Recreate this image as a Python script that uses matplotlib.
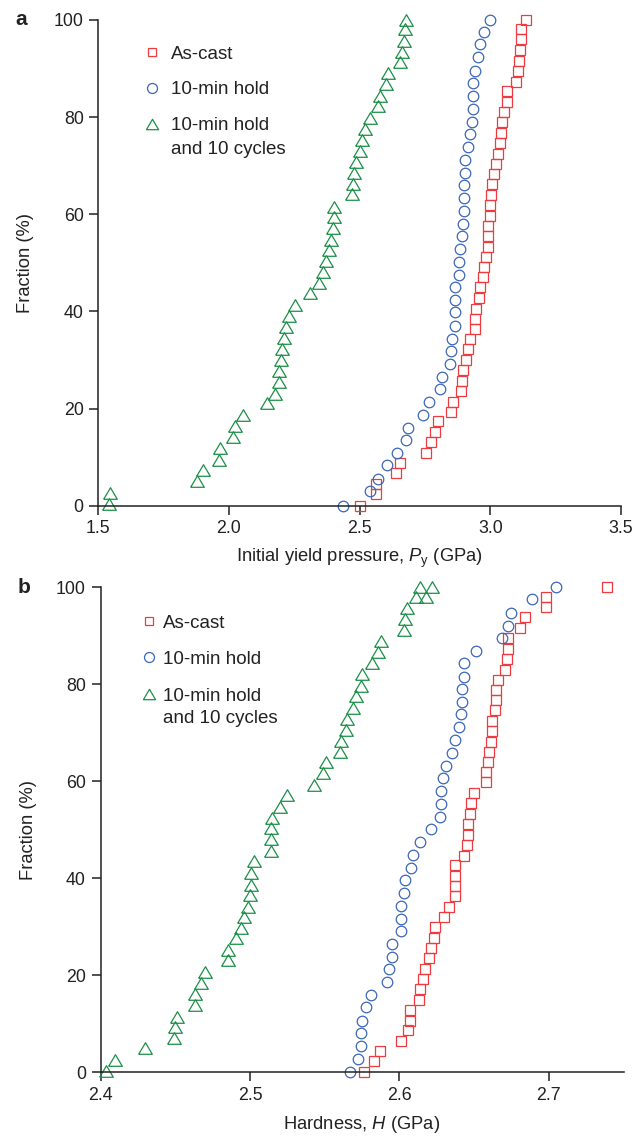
#!/usr/bin/env python3
from __future__ import annotations

import matplotlib
matplotlib.use("Agg")
import matplotlib.pyplot as plt
from matplotlib import font_manager

# ---- panel a: initial yield pressure (GPa) vs cumulative fraction (%) ----
a_cast_x = [3.135, 3.119, 3.119, 3.115, 3.108, 3.105, 3.100, 3.062, 3.062, 3.051,
            3.045, 3.041, 3.036, 3.029, 3.023, 3.015, 3.006, 3.004, 2.997, 2.997,
            2.992, 2.992, 2.992, 2.982, 2.976, 2.972, 2.959, 2.956, 2.946, 2.942,
            2.940, 2.921, 2.915, 2.905, 2.895, 2.890, 2.886, 2.859, 2.851, 2.800,
            2.787, 2.772, 2.753, 2.653, 2.638, 2.563, 2.562, 2.500]
a_cast_y = [100.0, 98.1, 96.0, 93.8, 91.6, 89.5, 87.3, 85.3, 83.1, 81.0,
            79.0, 76.8, 74.7, 72.5, 70.4, 68.3, 66.2, 64.0, 61.9, 59.7,
            57.6, 55.6, 53.3, 51.3, 49.1, 47.1, 45.0, 42.8, 40.6, 38.5,
            36.4, 34.3, 32.2, 30.1, 27.9, 25.7, 23.7, 21.4, 19.4, 17.4,
            15.2, 13.1, 10.9, 8.8, 6.7, 4.5, 2.4, 0.0]

a_hold_x = [2.997, 2.974, 2.962, 2.954, 2.942, 2.933, 2.935, 2.933, 2.931, 2.924,
            2.914, 2.904, 2.904, 2.901, 2.901, 2.901, 2.896, 2.890, 2.882, 2.879,
            2.879, 2.865, 2.865, 2.863, 2.863, 2.854, 2.851, 2.844, 2.815, 2.809,
            2.767, 2.742, 2.685, 2.679, 2.642, 2.603, 2.572, 2.538, 2.438]
a_hold_y = [100.0, 97.6, 95.0, 92.3, 89.5, 87.0, 84.4, 81.7, 79.1, 76.5,
            73.8, 71.2, 68.6, 66.0, 63.3, 60.7, 58.1, 55.5, 52.9, 50.2,
            47.6, 45.0, 42.3, 39.8, 37.1, 34.4, 31.9, 29.2, 26.6, 24.1,
            21.3, 18.7, 16.1, 13.5, 10.9, 8.3, 5.6, 3.0, 0.0]

a_cyc_x = [1.540, 1.545, 1.876, 1.899, 1.963, 1.967, 2.017, 2.023, 2.055, 2.147,
           2.177, 2.190, 2.190, 2.200, 2.203, 2.209, 2.218, 2.228, 2.251, 2.309,
           2.344, 2.360, 2.372, 2.382, 2.391, 2.397, 2.401, 2.401, 2.472, 2.474,
           2.478, 2.485, 2.501, 2.510, 2.519, 2.538, 2.572, 2.578, 2.600, 2.610,
           2.654, 2.662, 2.668, 2.674, 2.677]
a_cyc_y = [0.3, 2.7, 5.1, 7.3, 9.5, 11.8, 14.2, 16.4, 18.7, 21.1,
           23.1, 25.4, 27.7, 30.0, 32.2, 34.5, 36.7, 39.1, 41.3, 43.7,
           45.8, 48.2, 50.4, 52.6, 54.8, 57.1, 59.4, 61.6, 64.1, 66.3,
           68.4, 70.8, 73.0, 75.3, 77.6, 79.9, 82.2, 84.4, 86.8, 89.0,
           91.3, 93.5, 95.7, 98.1, 100.0]

# ---- panel b: hardness (GPa) vs cumulative fraction (%) ----
b_cast_x = [2.739, 2.698, 2.698, 2.684, 2.681, 2.673, 2.673, 2.672, 2.671, 2.666,
            2.665, 2.665, 2.664, 2.662, 2.662, 2.661, 2.660, 2.659, 2.658, 2.658,
            2.650, 2.648, 2.647, 2.646, 2.646, 2.645, 2.643, 2.637, 2.637, 2.637,
            2.637, 2.633, 2.630, 2.624, 2.623, 2.621, 2.620, 2.617, 2.616, 2.614,
            2.613, 2.607, 2.607, 2.606, 2.601, 2.587, 2.583, 2.576]
b_cast_y = [100.0, 98.1, 95.9, 93.8, 91.6, 89.5, 87.3, 85.2, 83.0, 80.9,
            78.8, 76.8, 74.7, 72.5, 70.4, 68.2, 66.1, 63.9, 61.9, 59.8,
            57.6, 55.5, 53.3, 51.2, 49.0, 46.9, 44.7, 42.7, 40.5, 38.5,
            36.4, 34.2, 32.1, 29.9, 27.8, 25.6, 23.6, 21.4, 19.2, 17.2,
            15.0, 12.9, 10.7, 8.7, 6.5, 4.5, 2.3, 0.2]

b_hold_x = [2.705, 2.689, 2.675, 2.673, 2.669, 2.651, 2.643, 2.643, 2.642, 2.642,
            2.641, 2.640, 2.637, 2.635, 2.631, 2.629, 2.628, 2.628, 2.627, 2.621,
            2.614, 2.609, 2.608, 2.604, 2.603, 2.601, 2.601, 2.601, 2.595, 2.595,
            2.593, 2.592, 2.581, 2.578, 2.575, 2.574, 2.574, 2.572, 2.567]
b_hold_y = [100.0, 97.5, 94.8, 92.1, 89.5, 86.9, 84.3, 81.6, 79.1, 76.4,
            73.8, 71.2, 68.5, 65.9, 63.2, 60.6, 58.0, 55.4, 52.7, 50.1,
            47.5, 44.8, 42.2, 39.6, 37.0, 34.3, 31.7, 29.1, 26.5, 23.9,
            21.3, 18.6, 15.9, 13.4, 10.7, 8.1, 5.5, 2.8, 0.2]

b_cyc_x = [2.404, 2.410, 2.430, 2.449, 2.450, 2.451, 2.463, 2.463, 2.467, 2.470,
           2.485, 2.485, 2.491, 2.494, 2.496, 2.499, 2.500, 2.501, 2.501, 2.503,
           2.514, 2.514, 2.514, 2.515, 2.520, 2.525, 2.543, 2.549, 2.551, 2.560,
           2.561, 2.564, 2.565, 2.569, 2.571, 2.574, 2.575, 2.582, 2.586, 2.588,
           2.603, 2.604, 2.605, 2.611, 2.618, 2.614, 2.622]
b_cyc_y = [0.3, 2.6, 5.0, 7.1, 9.3, 11.5, 13.9, 16.1, 18.4, 20.7,
           23.1, 25.3, 27.7, 29.7, 32.1, 34.2, 36.5, 38.7, 41.1, 43.5,
           45.7, 48.1, 50.3, 52.5, 54.8, 57.1, 59.3, 61.7, 63.9, 66.1,
           68.4, 70.6, 72.9, 75.2, 77.5, 79.7, 82.1, 84.3, 86.6, 89.0,
           91.2, 93.4, 95.7, 98.1, 98.1, 100.0, 100.0]

labels = ["As-cast", "10-min hold", "10-min hold\nand 10 cycles"]
colors = ["#ef3b3f", "#3b66b8", "#1d8f47"]

names = {f.name for f in font_manager.fontManager.ttflist}
base = "Liberation Sans" if "Liberation Sans" in names else "DejaVu Sans"
plt.rcParams["font.family"] = [base, "DejaVu Sans"]
plt.rcParams["mathtext.fontset"] = "custom"
plt.rcParams["mathtext.rm"] = base
plt.rcParams["mathtext.it"] = base + ":italic"

tri = [(-1, -0.85), (1, -0.85), (0, 0.85), (-1, -0.85)]
markers = ["s", "o", tri]
msizes = [7.2, 7.6, 9.8]
leg_msizes = [6.0, 7.2, 8.8]
INK = "#222222"


def draw_legend(ax, mark_x, text_x, rows_y, second_line_y):
    # hand-placed key, marker beside the first line of each label
    for lab, c, m, ms, y in zip(labels, colors, markers, leg_msizes, rows_y):
        ax.plot([mark_x], [y], transform=ax.transAxes, linestyle="none", marker=m,
                markersize=ms, markerfacecolor="none", markeredgecolor=c,
                markeredgewidth=0.9, clip_on=False)
        lines = lab.split("\n")
        ax.text(text_x, y, lines[0], transform=ax.transAxes, fontsize=13.5,
                color=INK, va="center_baseline", ha="left")
        if len(lines) > 1:
            ax.text(text_x, second_line_y, lines[1], transform=ax.transAxes,
                    fontsize=13.5, color=INK, va="center_baseline", ha="left")


def draw_panel(ax, series, xlim, xticks, xlabel, letter):
    for (x, y), lab, c, m, ms in zip(series, labels, colors, markers, msizes):
        ax.plot(x, y, linestyle="none", marker=m, markersize=ms, markerfacecolor="none",
                markeredgecolor=c, markeredgewidth=0.9, label=lab, clip_on=False)

    ax.set_xlim(*xlim)
    ax.set_ylim(0, 100)
    ax.set_xticks(xticks)
    ax.set_xticklabels([f"{t:.1f}" for t in xticks])
    ax.set_yticks([0, 20, 40, 60, 80, 100])
    for side in ("top", "right"):
        ax.spines[side].set_visible(False)
    for side in ("left", "bottom"):
        ax.spines[side].set_linewidth(1.1)
        ax.spines[side].set_color(INK)
    ax.tick_params(direction="out", length=6.5, width=1.1, color=INK,
                   labelsize=12.8, labelcolor=INK, pad=4)
    ax.set_xlabel(xlabel, fontsize=13.2, color=INK, labelpad=7)
    ax.set_ylabel("Fraction (%)", fontsize=13.2, color=INK, labelpad=14)
    ax.text(-0.158, 1.0, letter, transform=ax.transAxes, fontsize=15, fontweight="bold",
            color=INK, va="center", ha="left")


fig = plt.figure(figsize=(6.35, 11.36), dpi=100)
ax_a = fig.add_axes([0.1548, 0.5548, 0.8232, 0.4276])
ax_b = fig.add_axes([0.1583, 0.0559, 0.8236, 0.4271])

draw_panel(ax_a, [(a_cast_x, a_cast_y), (a_hold_x, a_hold_y), (a_cyc_x, a_cyc_y)],
           (1.5, 3.5), [1.5, 2.0, 2.5, 3.0, 3.5],
           "Initial yield pressure, $\\it{P}_\\mathrm{y}$ (GPa)", "a")
draw_legend(ax_a, 0.1027, 0.139, [0.934, 0.860, 0.786], 0.738)

draw_panel(ax_b, [(b_cast_x, b_cast_y), (b_hold_x, b_hold_y), (b_cyc_x, b_cyc_y)],
           (2.4, 2.75), [2.4, 2.5, 2.6, 2.7],
           "Hardness, $\\it{H}$ (GPa)", "b")
draw_legend(ax_b, 0.0927, 0.1195, [0.9305, 0.856, 0.780], 0.733)

fig.savefig("out.png", dpi=100)
